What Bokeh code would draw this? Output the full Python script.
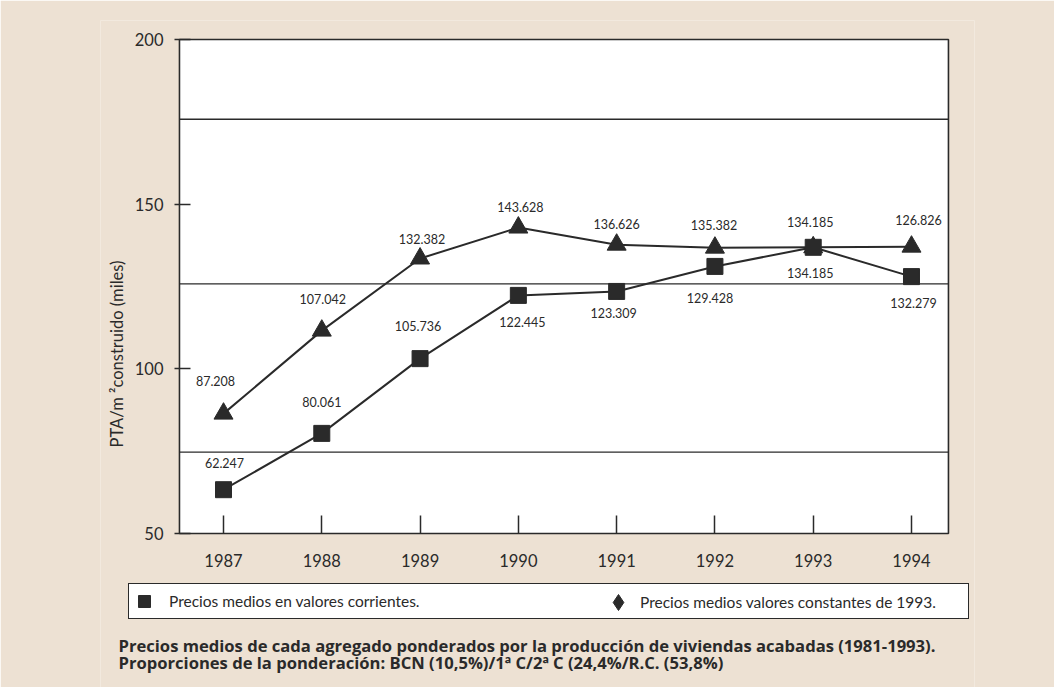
from bokeh.plotting import figure
from bokeh.models import (Range1d, FixedTicker, ColumnDataSource, Label,
                          Legend, LegendItem)
from bokeh.embed import file_html
from bokeh.resources import INLINE
from bokeh.core.properties import value

# ---------------- data ----------------
years = [1987, 1988, 1989, 1990, 1991, 1992, 1993, 1994]
year_labels = ["1987", "1988", "1989", "1990", "1991", "1992", "1993", "1994"]
# plotted positions (PTA/m2, thousands)
constant_prices = [86.4, 111.6, 133.5, 142.9, 137.7, 136.8, 136.9, 137.1]
current_prices = [63.3, 80.4, 103.1, 122.3, 123.5, 131.1, 136.9, 128.0]
# printed value labels
constant_labels = ["87.208", "107.042", "132.382", "143.628", "136.626", "135.382", "134.185", "126.826"]
current_labels = ["62.247", "80.061", "105.736", "122.445", "123.309", "129.428", "134.185", "132.279"]
y_ticks = [50, 100, 150, 200]
ref_levels = [74.7, 125.8, 175.8]

legend_current = "Precios medios en valores corrientes."
legend_constant = "Precios medios valores constantes de 1993."
caption_1 = "Precios medios de cada agregado ponderados por la producción de viviendas acabadas (1981-1993)."
caption_2 = "Proporciones de la ponderación: BCN (10,5%)/1ª C/2ª C (24,4%/R.C. (53,8%)"
y_title = "PTA/m ²construido (miles)"

# ---------------- chart box (data space) ----------------
box_x0, box_x1 = 1986.552, 1994.376
box_y0, box_y1 = 50, 200

# ---------------- label placement (screen px) ----------------
constant_dx = [-8, 1, 2, 2, 0, -1, -3, 7]
constant_dy = [-33, -32, -20, -21, -21, -23, -25, -27]
current_dx = [1, 0, -2, 4, -3, -5, -3, 2]
current_dy = [-27, -31, -33, 27, 22, 32, 26, 26]

BG = "#ede1d3"
INK = "#2a2a2a"
FONT = "Lato"
CAP_FONT = "Open Sans"

# the frame covers the chart box plus the legend and caption area below it
p = figure(width=1054, height=687,
           x_range=Range1d(1985.7485, 1994.641), y_range=Range1d(3.24, 205.77),
           output_backend="svg", toolbar_location=None,
           min_border_left=100, min_border_right=80,
           min_border_top=20, min_border_bottom=0,
           background_fill_color=BG, border_fill_color=BG,
           outline_line_color=None)

p.grid.visible = False

# white chart box
p.quad(left=[box_x0], right=[box_x1], bottom=[box_y0], top=[box_y1],
       fill_color="white", line_color=INK, line_width=1.6)
# horizontal reference lines inside the box
p.segment(x0=[box_x0] * len(ref_levels), x1=[box_x1] * len(ref_levels),
          y0=ref_levels, y1=ref_levels, line_color=INK, line_width=1.4)

# x axis pinned to the bottom of the chart box (ticks only)
p.xaxis.fixed_location = box_y0
p.xaxis.ticker = FixedTicker(ticks=years)
p.xaxis.axis_line_color = None
p.xaxis.major_tick_in = 18
p.xaxis.major_tick_out = 0
p.xaxis.minor_tick_line_color = None
p.xaxis.major_tick_line_color = INK
p.xaxis.major_tick_line_width = 1.5
p.xaxis.major_label_overrides = {y: "" for y in years}
p.xaxis.major_label_text_font_size = "1px"
p.xaxis.major_label_standoff = 0

# year labels under the box
p.text(x=years, y=[box_y0] * len(years), text=year_labels, y_offset=27,
       text_align="center", text_baseline="middle",
       text_font=value(FONT), text_font_size="16.5px", text_color=INK)

# y axis pinned to the left side of the chart box
p.yaxis.fixed_location = box_x0
p.yaxis.ticker = FixedTicker(ticks=y_ticks)
p.yaxis.axis_line_color = None
p.yaxis.major_tick_in = 11
p.yaxis.major_tick_out = 5
p.yaxis.minor_tick_line_color = None
p.yaxis.major_tick_line_color = INK
p.yaxis.major_tick_line_width = 1.5
p.yaxis.major_label_standoff = 11
p.yaxis.major_label_text_font = FONT
p.yaxis.major_label_text_font_size = "16.5px"
p.yaxis.major_label_text_color = INK
p.yaxis.axis_label = y_title
p.yaxis.axis_label_text_font = FONT
p.yaxis.axis_label_text_font_size = "16.5px"
p.yaxis.axis_label_text_font_style = "normal"
p.yaxis.axis_label_text_color = INK
p.yaxis.axis_label_standoff = 5

src_const = ColumnDataSource(dict(x=years, y=constant_prices, t=constant_labels,
                                  dx=constant_dx, dy=constant_dy))
src_cur = ColumnDataSource(dict(x=years, y=current_prices, t=current_labels,
                                dx=current_dx, dy=current_dy))

p.line("x", "y", source=src_const, line_color=INK, line_width=2)
p.line("x", "y", source=src_cur, line_color=INK, line_width=2)
p.scatter("x", "y", source=src_const, marker="triangle", size=19,
          fill_color=INK, line_color=INK)
r_cur = p.scatter("x", "y", source=src_cur, marker="square", size=16,
                  fill_color=INK, line_color=INK)
# key swatch for the legend only (the printed legend shows a diamond)
r_const_key = p.scatter(x=[float("nan")], y=[float("nan")], marker="diamond",
                        size=16, fill_color=INK, line_color=INK)

for src in (src_const, src_cur):
    p.text("x", "y", text="t", source=src, x_offset="dx", y_offset="dy",
           text_align="center", text_baseline="middle",
           text_font=value(FONT), text_font_size="12.5px", text_color=INK)

# ---------------- legend box (two keys in one framed strip) ----------------
legend_box = Legend(items=[LegendItem(label=legend_current, renderers=[r_cur])],
                    location=(28, 68),
                    glyph_width=30, glyph_height=34, label_standoff=10,
                    label_width=799, padding=0, margin=0,
                    border_line_color=INK, border_line_width=1.6,
                    border_line_alpha=1.0,
                    background_fill_color="white", background_fill_alpha=1.0,
                    label_text_font=FONT, label_text_font_size="15.5px",
                    label_text_color=INK)
p.add_layout(legend_box, "center")

legend_key2 = Legend(items=[LegendItem(label=legend_constant, renderers=[r_const_key])],
                     location=(496, 65),
                     glyph_width=44, glyph_height=40, label_standoff=0,
                     padding=0, margin=0,
                     border_line_color=None, background_fill_alpha=0.0,
                     label_text_font=FONT, label_text_font_size="15.5px",
                     label_text_color=INK)
p.add_layout(legend_key2, "center")

# ---------------- caption ----------------
for txt, yy in ((caption_1, 42), (caption_2, 25)):
    p.add_layout(Label(x=18, y=yy, x_units="screen", y_units="screen",
                       text=txt, text_align="left", text_baseline="middle",
                       text_font=CAP_FONT, text_font_size="16.6px",
                       text_font_style="bold", text_color=INK))

open("out.html", "w").write(file_html(p, INLINE))
